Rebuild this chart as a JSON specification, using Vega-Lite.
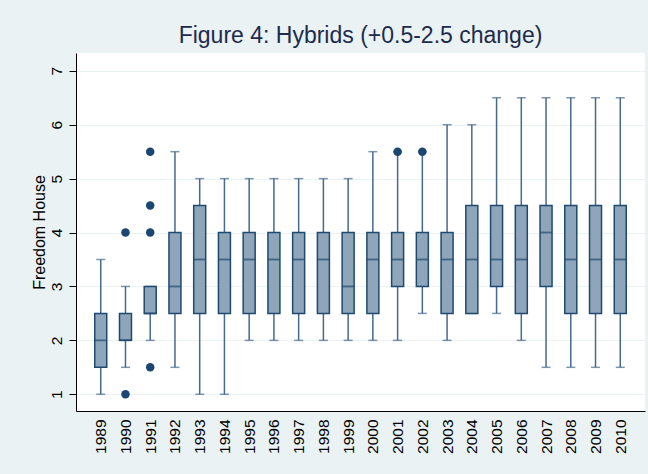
{
  "$schema": "https://vega.github.io/schema/vega-lite/v6.json",
  "width": 569,
  "height": 358,
  "autosize": {"type": "none"},
  "padding": {"left": 76, "top": 53, "right": 3, "bottom": 63},
  "background": "#eaf2f3",
  "title": {
    "text": "Figure 4: Hybrids (+0.5-2.5 change)",
    "fontSize": 23,
    "font": "Liberation Sans",
    "fontWeight": "normal",
    "color": "#1e2b4d",
    "anchor": "middle",
    "frame": "group",
    "baseline": "alphabetic",
    "offset": 8,
    "dy": 21
  },
  "config": {
    "view": {"fill": "white", "stroke": null},
    "font": "Liberation Sans",
    "axisY": {
      "grid": true,
      "gridColor": "#eaf2f3",
      "gridWidth": 1,
      "domainColor": "black",
      "domainWidth": 1,
      "tickColor": "black",
      "tickSize": 7,
      "tickWidth": 1,
      "labelAngle": -90,
      "labelAlign": "center",
      "labelBaseline": "bottom",
      "labelPadding": 5,
      "labelFontSize": 15.5,
      "labelColor": "black",
      "titleFontSize": 16,
      "titleFontWeight": "normal",
      "titleColor": "black",
      "titlePadding": 2
    },
    "axisX": {
      "grid": false,
      "ticks": false,
      "tickSize": 0,
      "domainColor": "black",
      "domainWidth": 1,
      "labelAngle": -90,
      "labelFontSize": 15.5,
      "labelColor": "black",
      "labelPadding": 8
    }
  },
  "datasets": {
    "box": [
      {"year": "1989", "lo": 1, "q1": 1.5, "med": 2, "q3": 2.5, "hi": 3.5},
      {"year": "1990", "lo": 1.5, "q1": 2, "med": 2, "q3": 2.5, "hi": 3},
      {"year": "1991", "lo": 2, "q1": 2.5, "med": 2.5, "q3": 3, "hi": 3},
      {"year": "1992", "lo": 1.5, "q1": 2.5, "med": 3, "q3": 4, "hi": 5.5},
      {"year": "1993", "lo": 1, "q1": 2.5, "med": 3.5, "q3": 4.5, "hi": 5},
      {"year": "1994", "lo": 1, "q1": 2.5, "med": 3.5, "q3": 4, "hi": 5},
      {"year": "1995", "lo": 2, "q1": 2.5, "med": 3.5, "q3": 4, "hi": 5},
      {"year": "1996", "lo": 2, "q1": 2.5, "med": 3.5, "q3": 4, "hi": 5},
      {"year": "1997", "lo": 2, "q1": 2.5, "med": 3.5, "q3": 4, "hi": 5},
      {"year": "1998", "lo": 2, "q1": 2.5, "med": 3.5, "q3": 4, "hi": 5},
      {"year": "1999", "lo": 2, "q1": 2.5, "med": 3, "q3": 4, "hi": 5},
      {"year": "2000", "lo": 2, "q1": 2.5, "med": 3.5, "q3": 4, "hi": 5.5},
      {"year": "2001", "lo": 2, "q1": 3, "med": 3.5, "q3": 4, "hi": 5.5},
      {"year": "2002", "lo": 2.5, "q1": 3, "med": 3.5, "q3": 4, "hi": 5.5},
      {"year": "2003", "lo": 2, "q1": 2.5, "med": 3.5, "q3": 4, "hi": 6},
      {"year": "2004", "lo": 2.5, "q1": 2.5, "med": 3.5, "q3": 4.5, "hi": 6},
      {"year": "2005", "lo": 2.5, "q1": 3, "med": 3.5, "q3": 4.5, "hi": 6.5},
      {"year": "2006", "lo": 2, "q1": 2.5, "med": 3.5, "q3": 4.5, "hi": 6.5},
      {"year": "2007", "lo": 1.5, "q1": 3, "med": 4, "q3": 4.5, "hi": 6.5},
      {"year": "2008", "lo": 1.5, "q1": 2.5, "med": 3.5, "q3": 4.5, "hi": 6.5},
      {"year": "2009", "lo": 1.5, "q1": 2.5, "med": 3.5, "q3": 4.5, "hi": 6.5},
      {"year": "2010", "lo": 1.5, "q1": 2.5, "med": 3.5, "q3": 4.5, "hi": 6.5}
    ],
    "out": [
      {"year": "1990", "v": 1},
      {"year": "1990", "v": 4},
      {"year": "1991", "v": 1.5},
      {"year": "1991", "v": 4},
      {"year": "1991", "v": 4.5},
      {"year": "1991", "v": 5.5},
      {"year": "2001", "v": 5.5},
      {"year": "2002", "v": 5.5}
    ]
  },
  "encoding": {
    "x": {
      "field": "year",
      "type": "ordinal",
      "title": null,
      "scale": {
        "type": "point",
        "padding": 1,
        "domain": ["1989","1990","1991","1992","1993","1994","1995","1996","1997","1998","1999","2000","2001","2002","2003","2004","2005","2006","2007","2008","2009","2010"]
      }
    }
  },
  "layer": [
    {
      "data": {"name": "box"},
      "mark": {"type": "rule", "color": "#46698c", "strokeWidth": 1.5},
      "encoding": {
        "y": {"field": "lo", "type": "quantitative", "title": "Freedom House",
              "scale": {"domain": [0.69, 7.33], "nice": false, "zero": false},
              "axis": {"values": [1, 2, 3, 4, 5, 6, 7]}},
        "y2": {"field": "hi"}
      }
    },
    {
      "data": {"name": "box"},
      "mark": {"type": "tick", "color": "#46698c", "size": 9, "thickness": 1.5},
      "encoding": {
        "y": {"field": "lo", "type": "quantitative", "title": "Freedom House", "axis": {"values": [1, 2, 3, 4, 5, 6, 7]}}
      }
    },
    {
      "data": {"name": "box"},
      "mark": {"type": "tick", "color": "#46698c", "size": 9, "thickness": 1.5},
      "encoding": {
        "y": {"field": "hi", "type": "quantitative", "title": "Freedom House", "axis": {"values": [1, 2, 3, 4, 5, 6, 7]}}
      }
    },
    {
      "data": {"name": "box"},
      "mark": {"type": "bar", "size": 12, "fill": "#8fa5b9", "stroke": "#1f4a70", "strokeWidth": 1.5},
      "encoding": {
        "y": {"field": "q1", "type": "quantitative", "title": "Freedom House", "axis": {"values": [1, 2, 3, 4, 5, 6, 7]}},
        "y2": {"field": "q3"}
      }
    },
    {
      "data": {"name": "box"},
      "mark": {"type": "tick", "color": "#1f4a70", "size": 12, "thickness": 1.8},
      "encoding": {
        "y": {"field": "med", "type": "quantitative", "title": "Freedom House", "axis": {"values": [1, 2, 3, 4, 5, 6, 7]}}
      }
    },
    {
      "data": {"name": "out"},
      "mark": {"type": "circle", "color": "#1a4670", "size": 72, "opacity": 1},
      "encoding": {
        "y": {"field": "v", "type": "quantitative", "title": "Freedom House", "axis": {"values": [1, 2, 3, 4, 5, 6, 7]}}
      }
    }
  ]
}
